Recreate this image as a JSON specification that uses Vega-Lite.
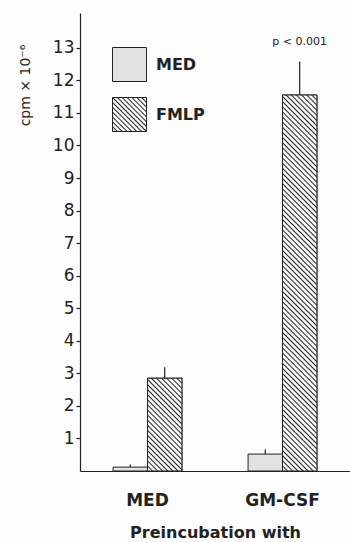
{
  "$schema": "https://vega.github.io/schema/vega-lite/v6.json",
  "width": 270,
  "height": 458,
  "autosize": {"type": "none"},
  "padding": {"left": 80, "top": 13, "right": 0, "bottom": 72},
  "background": "#fdfdfd",
  "config": {"view": {"stroke": null}, "font": "DejaVu Sans"},
  "data": {
    "values": [
      {"group": "MED", "series": "MED", "value": 0.12, "upper": 0.2, "note": ""},
      {"group": "MED", "series": "FMLP", "value": 2.85, "upper": 3.19, "note": ""},
      {"group": "GM-CSF", "series": "MED", "value": 0.52, "upper": 0.66, "note": ""},
      {"group": "GM-CSF", "series": "FMLP", "value": 11.55, "upper": 12.58, "note": "p < 0.001"}
    ]
  },
  "encoding": {
    "x": {
      "field": "group",
      "type": "nominal",
      "sort": null,
      "scale": {"domain": ["MED", "GM-CSF"], "paddingInner": 0.49, "paddingOuter": 0.245},
      "axis": {
        "title": "Preincubation with",
        "labelAngle": 0,
        "ticks": false,
        "labelFont": "DejaVu Sans",
        "labelFontWeight": "bold",
        "labelFontSize": 17,
        "labelColor": "#222",
        "labelPadding": 21,
        "titleFont": "DejaVu Sans",
        "titleFontWeight": "bold",
        "titleFontSize": 16,
        "titleColor": "#222",
        "titlePadding": 16,
        "domainColor": "#222",
        "domainWidth": 1.2
      }
    },
    "xOffset": {"field": "series", "type": "nominal", "sort": null, "scale": {"domain": ["MED", "FMLP"]}},
    "y": {
      "field": "value",
      "type": "quantitative",
      "scale": {"domain": [0, 14.07], "nice": false, "zero": true},
      "axis": {
        "values": [1, 2, 3, 4, 5, 6, 7, 8, 9, 10, 11, 12, 13],
        "title": "cpm × 10⁻⁶",
        "titleFont": "DejaVu Sans",
        "titleFontSize": 14,
        "titleFontWeight": "normal",
        "titleColor": "#222",
        "titleAngle": -90,
        "titleX": -55,
        "titleY": 72,
        "titleAlign": "center",
        "titleBaseline": "middle",
        "labelFont": "DejaVu Sans",
        "labelFontSize": 17,
        "labelColor": "#222",
        "labelPadding": 2,
        "tickSize": 4,
        "tickColor": "#222",
        "tickWidth": 1.2,
        "domainColor": "#222",
        "domainWidth": 1.2,
        "grid": false
      }
    }
  },
  "layer": [
    {
      "transform": [{"filter": "datum.series === 'MED'"}],
      "mark": {"type": "bar", "stroke": "#222", "strokeWidth": 1},
      "encoding": {
        "fill": {
          "field": "series",
          "type": "nominal",
          "scale": {"domain": ["MED"], "range": ["#e2e2e2"]},
          "legend": {
            "title": null,
            "orient": "none",
            "legendX": 32,
            "legendY": 34,
            "padding": 0,
            "symbolType": "square",
            "symbolSize": 1156,
            "symbolStrokeColor": "#222",
            "symbolStrokeWidth": 1,
            "labelFont": "DejaVu Sans",
            "labelFontWeight": "bold",
            "labelFontSize": 16,
            "labelColor": "#222",
            "labelOffset": 9
          }
        }
      }
    },
    {
      "transform": [{"filter": "datum.series === 'FMLP'"}],
      "mark": {
        "type": "bar", "strokeWidth": 1,
        "fill": {
          "gradient": "linear", "x1": 0, "y1": 1, "x2": 1, "y2": 0,
          "stops": [
            {"offset": 0, "color": "#2a2a2a"}, {"offset": 0.0214, "color": "#fdfdfd"}, {"offset": 0.05, "color": "#fdfdfd"},
            {"offset": 0.0714, "color": "#2a2a2a"}, {"offset": 0.0929, "color": "#fdfdfd"}, {"offset": 0.1214, "color": "#fdfdfd"},
            {"offset": 0.1429, "color": "#2a2a2a"}, {"offset": 0.1643, "color": "#fdfdfd"}, {"offset": 0.1929, "color": "#fdfdfd"},
            {"offset": 0.2143, "color": "#2a2a2a"}, {"offset": 0.2357, "color": "#fdfdfd"}, {"offset": 0.2643, "color": "#fdfdfd"},
            {"offset": 0.2857, "color": "#2a2a2a"}, {"offset": 0.3071, "color": "#fdfdfd"}, {"offset": 0.3357, "color": "#fdfdfd"},
            {"offset": 0.3571, "color": "#2a2a2a"}, {"offset": 0.3786, "color": "#fdfdfd"}, {"offset": 0.4071, "color": "#fdfdfd"},
            {"offset": 0.4286, "color": "#2a2a2a"}, {"offset": 0.45, "color": "#fdfdfd"}, {"offset": 0.4786, "color": "#fdfdfd"},
            {"offset": 0.5, "color": "#2a2a2a"}, {"offset": 0.5214, "color": "#fdfdfd"}, {"offset": 0.55, "color": "#fdfdfd"},
            {"offset": 0.5714, "color": "#2a2a2a"}, {"offset": 0.5929, "color": "#fdfdfd"}, {"offset": 0.6214, "color": "#fdfdfd"},
            {"offset": 0.6429, "color": "#2a2a2a"}, {"offset": 0.6643, "color": "#fdfdfd"}, {"offset": 0.6929, "color": "#fdfdfd"},
            {"offset": 0.7143, "color": "#2a2a2a"}, {"offset": 0.7357, "color": "#fdfdfd"}, {"offset": 0.7643, "color": "#fdfdfd"},
            {"offset": 0.7857, "color": "#2a2a2a"}, {"offset": 0.8071, "color": "#fdfdfd"}, {"offset": 0.8357, "color": "#fdfdfd"},
            {"offset": 0.8571, "color": "#2a2a2a"}, {"offset": 0.8786, "color": "#fdfdfd"}, {"offset": 0.9071, "color": "#fdfdfd"},
            {"offset": 0.9286, "color": "#2a2a2a"}, {"offset": 0.95, "color": "#fdfdfd"}, {"offset": 0.9786, "color": "#fdfdfd"},
            {"offset": 1, "color": "#2a2a2a"}
          ]
        }
      },
      "encoding": {
        "stroke": {
          "field": "series",
          "type": "nominal",
          "scale": {"domain": ["FMLP"], "range": ["#222222"]},
          "legend": {
            "title": null,
            "orient": "none",
            "legendX": 32,
            "legendY": 84,
            "padding": 0,
            "symbolType": "square",
            "symbolSize": 1156,
            "symbolStrokeWidth": 1,
            "labelFont": "DejaVu Sans",
            "labelFontWeight": "bold",
            "labelFontSize": 16,
            "labelColor": "#222",
            "labelOffset": 9
          }
        }
      }
    },
    {
      "transform": [{"filter": "datum.group === 'MED' && datum.series === 'FMLP'"}],
      "mark": {
        "type": "bar", "stroke": "#222", "strokeWidth": 1,
        "fill": {
          "gradient": "linear", "x1": 0, "y1": 1, "x2": 0.4472, "y2": -0.2052,
          "stops": [
            {"offset": 0, "color": "#2a2a2a"}, {"offset": 0.012, "color": "#fdfdfd"}, {"offset": 0.028, "color": "#fdfdfd"},
            {"offset": 0.04, "color": "#2a2a2a"}, {"offset": 0.052, "color": "#fdfdfd"}, {"offset": 0.068, "color": "#fdfdfd"},
            {"offset": 0.08, "color": "#2a2a2a"}, {"offset": 0.092, "color": "#fdfdfd"}, {"offset": 0.108, "color": "#fdfdfd"},
            {"offset": 0.12, "color": "#2a2a2a"}, {"offset": 0.132, "color": "#fdfdfd"}, {"offset": 0.148, "color": "#fdfdfd"},
            {"offset": 0.16, "color": "#2a2a2a"}, {"offset": 0.172, "color": "#fdfdfd"}, {"offset": 0.188, "color": "#fdfdfd"},
            {"offset": 0.2, "color": "#2a2a2a"}, {"offset": 0.212, "color": "#fdfdfd"}, {"offset": 0.228, "color": "#fdfdfd"},
            {"offset": 0.24, "color": "#2a2a2a"}, {"offset": 0.252, "color": "#fdfdfd"}, {"offset": 0.268, "color": "#fdfdfd"},
            {"offset": 0.28, "color": "#2a2a2a"}, {"offset": 0.292, "color": "#fdfdfd"}, {"offset": 0.308, "color": "#fdfdfd"},
            {"offset": 0.32, "color": "#2a2a2a"}, {"offset": 0.332, "color": "#fdfdfd"}, {"offset": 0.348, "color": "#fdfdfd"},
            {"offset": 0.36, "color": "#2a2a2a"}, {"offset": 0.372, "color": "#fdfdfd"}, {"offset": 0.388, "color": "#fdfdfd"},
            {"offset": 0.4, "color": "#2a2a2a"}, {"offset": 0.412, "color": "#fdfdfd"}, {"offset": 0.428, "color": "#fdfdfd"},
            {"offset": 0.44, "color": "#2a2a2a"}, {"offset": 0.452, "color": "#fdfdfd"}, {"offset": 0.468, "color": "#fdfdfd"},
            {"offset": 0.48, "color": "#2a2a2a"}, {"offset": 0.492, "color": "#fdfdfd"}, {"offset": 0.508, "color": "#fdfdfd"},
            {"offset": 0.52, "color": "#2a2a2a"}, {"offset": 0.532, "color": "#fdfdfd"}, {"offset": 0.548, "color": "#fdfdfd"},
            {"offset": 0.56, "color": "#2a2a2a"}, {"offset": 0.572, "color": "#fdfdfd"}, {"offset": 0.588, "color": "#fdfdfd"},
            {"offset": 0.6, "color": "#2a2a2a"}, {"offset": 0.612, "color": "#fdfdfd"}, {"offset": 0.628, "color": "#fdfdfd"},
            {"offset": 0.64, "color": "#2a2a2a"}, {"offset": 0.652, "color": "#fdfdfd"}, {"offset": 0.668, "color": "#fdfdfd"},
            {"offset": 0.68, "color": "#2a2a2a"}, {"offset": 0.692, "color": "#fdfdfd"}, {"offset": 0.708, "color": "#fdfdfd"},
            {"offset": 0.72, "color": "#2a2a2a"}, {"offset": 0.732, "color": "#fdfdfd"}, {"offset": 0.748, "color": "#fdfdfd"},
            {"offset": 0.76, "color": "#2a2a2a"}, {"offset": 0.772, "color": "#fdfdfd"}, {"offset": 0.788, "color": "#fdfdfd"},
            {"offset": 0.8, "color": "#2a2a2a"}, {"offset": 0.812, "color": "#fdfdfd"}, {"offset": 0.828, "color": "#fdfdfd"},
            {"offset": 0.84, "color": "#2a2a2a"}, {"offset": 0.852, "color": "#fdfdfd"}, {"offset": 0.868, "color": "#fdfdfd"},
            {"offset": 0.88, "color": "#2a2a2a"}, {"offset": 0.892, "color": "#fdfdfd"}, {"offset": 0.908, "color": "#fdfdfd"},
            {"offset": 0.92, "color": "#2a2a2a"}, {"offset": 0.932, "color": "#fdfdfd"}, {"offset": 0.948, "color": "#fdfdfd"},
            {"offset": 0.96, "color": "#2a2a2a"}, {"offset": 0.972, "color": "#fdfdfd"}, {"offset": 0.988, "color": "#fdfdfd"},
            {"offset": 1, "color": "#2a2a2a"}
          ]
        }
      }
    },
    {
      "transform": [{"filter": "datum.group === 'GM-CSF' && datum.series === 'FMLP'"}],
      "mark": {
        "type": "bar", "stroke": "#222", "strokeWidth": 1,
        "fill": {
          "gradient": "linear", "x1": 0, "y1": 1, "x2": 0.0991, "y2": -0.0825,
          "stops": [
            {"offset": 0, "color": "#2a2a2a"}, {"offset": 0.00375, "color": "#fdfdfd"}, {"offset": 0.00875, "color": "#fdfdfd"},
            {"offset": 0.0125, "color": "#2a2a2a"}, {"offset": 0.01625, "color": "#fdfdfd"}, {"offset": 0.02125, "color": "#fdfdfd"},
            {"offset": 0.025, "color": "#2a2a2a"}, {"offset": 0.02875, "color": "#fdfdfd"}, {"offset": 0.03375, "color": "#fdfdfd"},
            {"offset": 0.0375, "color": "#2a2a2a"}, {"offset": 0.04125, "color": "#fdfdfd"}, {"offset": 0.04625, "color": "#fdfdfd"},
            {"offset": 0.05, "color": "#2a2a2a"}, {"offset": 0.05375, "color": "#fdfdfd"}, {"offset": 0.05875, "color": "#fdfdfd"},
            {"offset": 0.0625, "color": "#2a2a2a"}, {"offset": 0.06625, "color": "#fdfdfd"}, {"offset": 0.07125, "color": "#fdfdfd"},
            {"offset": 0.075, "color": "#2a2a2a"}, {"offset": 0.07875, "color": "#fdfdfd"}, {"offset": 0.08375, "color": "#fdfdfd"},
            {"offset": 0.0875, "color": "#2a2a2a"}, {"offset": 0.09125, "color": "#fdfdfd"}, {"offset": 0.09625, "color": "#fdfdfd"},
            {"offset": 0.1, "color": "#2a2a2a"}, {"offset": 0.10375, "color": "#fdfdfd"}, {"offset": 0.10875, "color": "#fdfdfd"},
            {"offset": 0.1125, "color": "#2a2a2a"}, {"offset": 0.11625, "color": "#fdfdfd"}, {"offset": 0.12125, "color": "#fdfdfd"},
            {"offset": 0.125, "color": "#2a2a2a"}, {"offset": 0.12875, "color": "#fdfdfd"}, {"offset": 0.13375, "color": "#fdfdfd"},
            {"offset": 0.1375, "color": "#2a2a2a"}, {"offset": 0.14125, "color": "#fdfdfd"}, {"offset": 0.14625, "color": "#fdfdfd"},
            {"offset": 0.15, "color": "#2a2a2a"}, {"offset": 0.15375, "color": "#fdfdfd"}, {"offset": 0.15875, "color": "#fdfdfd"},
            {"offset": 0.1625, "color": "#2a2a2a"}, {"offset": 0.16625, "color": "#fdfdfd"}, {"offset": 0.17125, "color": "#fdfdfd"},
            {"offset": 0.175, "color": "#2a2a2a"}, {"offset": 0.17875, "color": "#fdfdfd"}, {"offset": 0.18375, "color": "#fdfdfd"},
            {"offset": 0.1875, "color": "#2a2a2a"}, {"offset": 0.19125, "color": "#fdfdfd"}, {"offset": 0.19625, "color": "#fdfdfd"},
            {"offset": 0.2, "color": "#2a2a2a"}, {"offset": 0.20375, "color": "#fdfdfd"}, {"offset": 0.20875, "color": "#fdfdfd"},
            {"offset": 0.2125, "color": "#2a2a2a"}, {"offset": 0.21625, "color": "#fdfdfd"}, {"offset": 0.22125, "color": "#fdfdfd"},
            {"offset": 0.225, "color": "#2a2a2a"}, {"offset": 0.22875, "color": "#fdfdfd"}, {"offset": 0.23375, "color": "#fdfdfd"},
            {"offset": 0.2375, "color": "#2a2a2a"}, {"offset": 0.24125, "color": "#fdfdfd"}, {"offset": 0.24625, "color": "#fdfdfd"},
            {"offset": 0.25, "color": "#2a2a2a"}, {"offset": 0.25375, "color": "#fdfdfd"}, {"offset": 0.25875, "color": "#fdfdfd"},
            {"offset": 0.2625, "color": "#2a2a2a"}, {"offset": 0.26625, "color": "#fdfdfd"}, {"offset": 0.27125, "color": "#fdfdfd"},
            {"offset": 0.275, "color": "#2a2a2a"}, {"offset": 0.27875, "color": "#fdfdfd"}, {"offset": 0.28375, "color": "#fdfdfd"},
            {"offset": 0.2875, "color": "#2a2a2a"}, {"offset": 0.29125, "color": "#fdfdfd"}, {"offset": 0.29625, "color": "#fdfdfd"},
            {"offset": 0.3, "color": "#2a2a2a"}, {"offset": 0.30375, "color": "#fdfdfd"}, {"offset": 0.30875, "color": "#fdfdfd"},
            {"offset": 0.3125, "color": "#2a2a2a"}, {"offset": 0.31625, "color": "#fdfdfd"}, {"offset": 0.32125, "color": "#fdfdfd"},
            {"offset": 0.325, "color": "#2a2a2a"}, {"offset": 0.32875, "color": "#fdfdfd"}, {"offset": 0.33375, "color": "#fdfdfd"},
            {"offset": 0.3375, "color": "#2a2a2a"}, {"offset": 0.34125, "color": "#fdfdfd"}, {"offset": 0.34625, "color": "#fdfdfd"},
            {"offset": 0.35, "color": "#2a2a2a"}, {"offset": 0.35375, "color": "#fdfdfd"}, {"offset": 0.35875, "color": "#fdfdfd"},
            {"offset": 0.3625, "color": "#2a2a2a"}, {"offset": 0.36625, "color": "#fdfdfd"}, {"offset": 0.37125, "color": "#fdfdfd"},
            {"offset": 0.375, "color": "#2a2a2a"}, {"offset": 0.37875, "color": "#fdfdfd"}, {"offset": 0.38375, "color": "#fdfdfd"},
            {"offset": 0.3875, "color": "#2a2a2a"}, {"offset": 0.39125, "color": "#fdfdfd"}, {"offset": 0.39625, "color": "#fdfdfd"},
            {"offset": 0.4, "color": "#2a2a2a"}, {"offset": 0.40375, "color": "#fdfdfd"}, {"offset": 0.40875, "color": "#fdfdfd"},
            {"offset": 0.4125, "color": "#2a2a2a"}, {"offset": 0.41625, "color": "#fdfdfd"}, {"offset": 0.42125, "color": "#fdfdfd"},
            {"offset": 0.425, "color": "#2a2a2a"}, {"offset": 0.42875, "color": "#fdfdfd"}, {"offset": 0.43375, "color": "#fdfdfd"},
            {"offset": 0.4375, "color": "#2a2a2a"}, {"offset": 0.44125, "color": "#fdfdfd"}, {"offset": 0.44625, "color": "#fdfdfd"},
            {"offset": 0.45, "color": "#2a2a2a"}, {"offset": 0.45375, "color": "#fdfdfd"}, {"offset": 0.45875, "color": "#fdfdfd"},
            {"offset": 0.4625, "color": "#2a2a2a"}, {"offset": 0.46625, "color": "#fdfdfd"}, {"offset": 0.47125, "color": "#fdfdfd"},
            {"offset": 0.475, "color": "#2a2a2a"}, {"offset": 0.47875, "color": "#fdfdfd"}, {"offset": 0.48375, "color": "#fdfdfd"},
            {"offset": 0.4875, "color": "#2a2a2a"}, {"offset": 0.49125, "color": "#fdfdfd"}, {"offset": 0.49625, "color": "#fdfdfd"},
            {"offset": 0.5, "color": "#2a2a2a"}, {"offset": 0.50375, "color": "#fdfdfd"}, {"offset": 0.50875, "color": "#fdfdfd"},
            {"offset": 0.5125, "color": "#2a2a2a"}, {"offset": 0.51625, "color": "#fdfdfd"}, {"offset": 0.52125, "color": "#fdfdfd"},
            {"offset": 0.525, "color": "#2a2a2a"}, {"offset": 0.52875, "color": "#fdfdfd"}, {"offset": 0.53375, "color": "#fdfdfd"},
            {"offset": 0.5375, "color": "#2a2a2a"}, {"offset": 0.54125, "color": "#fdfdfd"}, {"offset": 0.54625, "color": "#fdfdfd"},
            {"offset": 0.55, "color": "#2a2a2a"}, {"offset": 0.55375, "color": "#fdfdfd"}, {"offset": 0.55875, "color": "#fdfdfd"},
            {"offset": 0.5625, "color": "#2a2a2a"}, {"offset": 0.56625, "color": "#fdfdfd"}, {"offset": 0.57125, "color": "#fdfdfd"},
            {"offset": 0.575, "color": "#2a2a2a"}, {"offset": 0.57875, "color": "#fdfdfd"}, {"offset": 0.58375, "color": "#fdfdfd"},
            {"offset": 0.5875, "color": "#2a2a2a"}, {"offset": 0.59125, "color": "#fdfdfd"}, {"offset": 0.59625, "color": "#fdfdfd"},
            {"offset": 0.6, "color": "#2a2a2a"}, {"offset": 0.60375, "color": "#fdfdfd"}, {"offset": 0.60875, "color": "#fdfdfd"},
            {"offset": 0.6125, "color": "#2a2a2a"}, {"offset": 0.61625, "color": "#fdfdfd"}, {"offset": 0.62125, "color": "#fdfdfd"},
            {"offset": 0.625, "color": "#2a2a2a"}, {"offset": 0.62875, "color": "#fdfdfd"}, {"offset": 0.63375, "color": "#fdfdfd"},
            {"offset": 0.6375, "color": "#2a2a2a"}, {"offset": 0.64125, "color": "#fdfdfd"}, {"offset": 0.64625, "color": "#fdfdfd"},
            {"offset": 0.65, "color": "#2a2a2a"}, {"offset": 0.65375, "color": "#fdfdfd"}, {"offset": 0.65875, "color": "#fdfdfd"},
            {"offset": 0.6625, "color": "#2a2a2a"}, {"offset": 0.66625, "color": "#fdfdfd"}, {"offset": 0.67125, "color": "#fdfdfd"},
            {"offset": 0.675, "color": "#2a2a2a"}, {"offset": 0.67875, "color": "#fdfdfd"}, {"offset": 0.68375, "color": "#fdfdfd"},
            {"offset": 0.6875, "color": "#2a2a2a"}, {"offset": 0.69125, "color": "#fdfdfd"}, {"offset": 0.69625, "color": "#fdfdfd"},
            {"offset": 0.7, "color": "#2a2a2a"}, {"offset": 0.70375, "color": "#fdfdfd"}, {"offset": 0.70875, "color": "#fdfdfd"},
            {"offset": 0.7125, "color": "#2a2a2a"}, {"offset": 0.71625, "color": "#fdfdfd"}, {"offset": 0.72125, "color": "#fdfdfd"},
            {"offset": 0.725, "color": "#2a2a2a"}, {"offset": 0.72875, "color": "#fdfdfd"}, {"offset": 0.73375, "color": "#fdfdfd"},
            {"offset": 0.7375, "color": "#2a2a2a"}, {"offset": 0.74125, "color": "#fdfdfd"}, {"offset": 0.74625, "color": "#fdfdfd"},
            {"offset": 0.75, "color": "#2a2a2a"}, {"offset": 0.75375, "color": "#fdfdfd"}, {"offset": 0.75875, "color": "#fdfdfd"},
            {"offset": 0.7625, "color": "#2a2a2a"}, {"offset": 0.76625, "color": "#fdfdfd"}, {"offset": 0.77125, "color": "#fdfdfd"},
            {"offset": 0.775, "color": "#2a2a2a"}, {"offset": 0.77875, "color": "#fdfdfd"}, {"offset": 0.78375, "color": "#fdfdfd"},
            {"offset": 0.7875, "color": "#2a2a2a"}, {"offset": 0.79125, "color": "#fdfdfd"}, {"offset": 0.79625, "color": "#fdfdfd"},
            {"offset": 0.8, "color": "#2a2a2a"}, {"offset": 0.80375, "color": "#fdfdfd"}, {"offset": 0.80875, "color": "#fdfdfd"},
            {"offset": 0.8125, "color": "#2a2a2a"}, {"offset": 0.81625, "color": "#fdfdfd"}, {"offset": 0.82125, "color": "#fdfdfd"},
            {"offset": 0.825, "color": "#2a2a2a"}, {"offset": 0.82875, "color": "#fdfdfd"}, {"offset": 0.83375, "color": "#fdfdfd"},
            {"offset": 0.8375, "color": "#2a2a2a"}, {"offset": 0.84125, "color": "#fdfdfd"}, {"offset": 0.84625, "color": "#fdfdfd"},
            {"offset": 0.85, "color": "#2a2a2a"}, {"offset": 0.85375, "color": "#fdfdfd"}, {"offset": 0.85875, "color": "#fdfdfd"},
            {"offset": 0.8625, "color": "#2a2a2a"}, {"offset": 0.86625, "color": "#fdfdfd"}, {"offset": 0.87125, "color": "#fdfdfd"},
            {"offset": 0.875, "color": "#2a2a2a"}, {"offset": 0.87875, "color": "#fdfdfd"}, {"offset": 0.88375, "color": "#fdfdfd"},
            {"offset": 0.8875, "color": "#2a2a2a"}, {"offset": 0.89125, "color": "#fdfdfd"}, {"offset": 0.89625, "color": "#fdfdfd"},
            {"offset": 0.9, "color": "#2a2a2a"}, {"offset": 0.90375, "color": "#fdfdfd"}, {"offset": 0.90875, "color": "#fdfdfd"},
            {"offset": 0.9125, "color": "#2a2a2a"}, {"offset": 0.91625, "color": "#fdfdfd"}, {"offset": 0.92125, "color": "#fdfdfd"},
            {"offset": 0.925, "color": "#2a2a2a"}, {"offset": 0.92875, "color": "#fdfdfd"}, {"offset": 0.93375, "color": "#fdfdfd"},
            {"offset": 0.9375, "color": "#2a2a2a"}, {"offset": 0.94125, "color": "#fdfdfd"}, {"offset": 0.94625, "color": "#fdfdfd"},
            {"offset": 0.95, "color": "#2a2a2a"}, {"offset": 0.95375, "color": "#fdfdfd"}, {"offset": 0.95875, "color": "#fdfdfd"},
            {"offset": 0.9625, "color": "#2a2a2a"}, {"offset": 0.96625, "color": "#fdfdfd"}, {"offset": 0.97125, "color": "#fdfdfd"},
            {"offset": 0.975, "color": "#2a2a2a"}, {"offset": 0.97875, "color": "#fdfdfd"}, {"offset": 0.98375, "color": "#fdfdfd"},
            {"offset": 0.9875, "color": "#2a2a2a"}, {"offset": 0.99125, "color": "#fdfdfd"}, {"offset": 0.99625, "color": "#fdfdfd"},
            {"offset": 1, "color": "#2a2a2a"}
          ]
        }
      }
    },
    {
      "mark": {"type": "rule", "stroke": "#222", "strokeWidth": 1.2},
      "encoding": {"y2": {"field": "upper"}}
    },
    {
      "transform": [{"filter": "datum.note !== ''"}],
      "mark": {"type": "text", "dy": -20, "font": "DejaVu Sans", "fontSize": 11, "color": "#222", "baseline": "middle"},
      "encoding": {
        "y": {"field": "upper", "type": "quantitative"},
        "text": {"field": "note", "type": "nominal"}
      }
    }
  ]
}
